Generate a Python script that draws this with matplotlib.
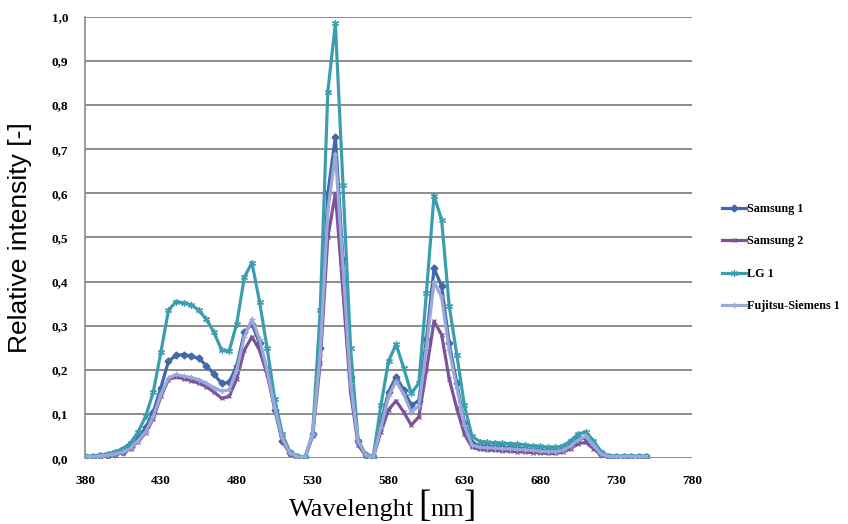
import numpy as np
import matplotlib.pyplot as plt

# wavelength grid (nm), one reading every 5 nm
wavelength = list(range(380, 755, 5))

samsung1 = [0.004, 0.004, 0.005, 0.007, 0.010, 0.015, 0.025, 0.045, 0.070, 0.105,
            0.160, 0.220, 0.233, 0.235, 0.232, 0.226, 0.210, 0.190, 0.170, 0.172,
            0.210, 0.285, 0.305, 0.260, 0.200, 0.110, 0.040, 0.012, 0.004, 0.002,
            0.055, 0.250, 0.600, 0.728, 0.450, 0.185, 0.040, 0.008, 0.002, 0.080,
            0.150, 0.185, 0.155, 0.120, 0.130, 0.270, 0.430, 0.390, 0.260, 0.170,
            0.080, 0.035, 0.028, 0.027, 0.026, 0.025, 0.024, 0.023, 0.021, 0.020,
            0.018, 0.017, 0.017, 0.020, 0.030, 0.043, 0.047, 0.030, 0.010, 0.004,
            0.004, 0.004, 0.004, 0.004, 0.004]

samsung2 = [0.003, 0.003, 0.004, 0.006, 0.009, 0.013, 0.022, 0.038, 0.058, 0.090,
            0.140, 0.178, 0.185, 0.180, 0.176, 0.170, 0.162, 0.150, 0.136, 0.140,
            0.180, 0.245, 0.275, 0.245, 0.190, 0.115, 0.040, 0.010, 0.003, 0.002,
            0.050, 0.215, 0.500, 0.600, 0.378, 0.150, 0.030, 0.006, 0.002, 0.060,
            0.110, 0.130, 0.105, 0.075, 0.094, 0.200, 0.310, 0.280, 0.180, 0.113,
            0.055, 0.025, 0.020, 0.019, 0.018, 0.017, 0.016, 0.015, 0.014, 0.013,
            0.012, 0.011, 0.011, 0.014, 0.022, 0.033, 0.036, 0.022, 0.008, 0.003,
            0.003, 0.003, 0.003, 0.003, 0.003]

lg1 = [0.005, 0.005, 0.007, 0.010, 0.015, 0.022, 0.035, 0.060, 0.095, 0.150,
       0.240, 0.335, 0.355, 0.352, 0.348, 0.335, 0.315, 0.285, 0.245, 0.243,
       0.305, 0.410, 0.443, 0.355, 0.250, 0.135, 0.055, 0.015, 0.005, 0.002,
       0.055, 0.335, 0.830, 0.985, 0.620, 0.250, 0.040, 0.008, 0.005, 0.120,
       0.220, 0.258, 0.205, 0.147, 0.170, 0.375, 0.595, 0.540, 0.345, 0.235,
       0.120, 0.050, 0.038, 0.036, 0.035, 0.034, 0.033, 0.032, 0.030, 0.028,
       0.027, 0.025, 0.025, 0.028, 0.040, 0.055, 0.060, 0.040, 0.015, 0.006,
       0.005, 0.005, 0.005, 0.005, 0.005]

fujitsu1 = [0.004, 0.004, 0.005, 0.007, 0.010, 0.014, 0.023, 0.040, 0.060, 0.095,
            0.145, 0.182, 0.190, 0.186, 0.183, 0.178, 0.170, 0.160, 0.152, 0.155,
            0.200, 0.275, 0.315, 0.270, 0.200, 0.115, 0.045, 0.012, 0.004, 0.002,
            0.055, 0.235, 0.560, 0.690, 0.434, 0.170, 0.038, 0.008, 0.002, 0.070,
            0.140, 0.175, 0.145, 0.105, 0.118, 0.250, 0.400, 0.365, 0.245, 0.160,
            0.075, 0.030, 0.025, 0.024, 0.023, 0.022, 0.021, 0.020, 0.019, 0.018,
            0.016, 0.015, 0.015, 0.018, 0.028, 0.042, 0.050, 0.030, 0.010, 0.004,
            0.004, 0.004, 0.004, 0.004, 0.004]

series_names = ['Samsung 1', 'Samsung 2', 'LG 1', 'Fujitsu-Siemens 1']
xticks = list(range(380, 781, 50))
yticks = [i / 10 for i in range(11)]
ytick_labels = ['%.1f' % v for v in yticks]
ytick_labels = [s.replace('.', ',') for s in ytick_labels]

fig = plt.figure(figsize=(8.48, 5.24), dpi=100)
ax = fig.add_axes([85 / 848, 1 - 458.3 / 524, 607 / 848, 441.6 / 524])

grid_col = '#8c8c8c'
for v in yticks:
    ax.axhline(v, color=grid_col, lw=1.4, zorder=0)

styles = [
    dict(color='#4169a8', marker='D', ms=3.5, mew=1),
    dict(color='#7a5399', marker='x', ms=3.5, mew=0.9),
    dict(color='#3a9db0', marker=(6, 2, 0), ms=5, mew=0.9),
    dict(color='#9aa9da', marker='+', ms=4.5, mew=0.9),
]
for ys, name, st in zip([samsung1, samsung2, lg1, fujitsu1], series_names, styles):
    ax.plot(wavelength, ys, lw=2.3, label=name, **st)

ax.set_xlim(380, 780)
ax.set_ylim(0, 1.0)
ax.set_xticks(xticks)
ax.set_xticklabels([str(t) for t in xticks])
ax.set_yticks(yticks)
ax.set_yticklabels(ytick_labels)

for sp in ['top', 'right', 'bottom']:
    ax.spines[sp].set_visible(False)
ax.spines['left'].set_color(grid_col)
ax.spines['left'].set_linewidth(1.2)
ax.tick_params(axis='y', length=0, pad=12)
ax.tick_params(axis='x', length=0, pad=12)
for lab in ax.get_xticklabels() + ax.get_yticklabels():
    lab.set_family('Liberation Serif')
    lab.set_fontweight('bold')
    lab.set_fontsize(9.5)

ax.set_ylabel('Relative intensity [-]', family='Liberation Sans', fontsize=19, labelpad=14)

# x label with tall brackets round the unit
base = 1 - 516 / 524
fig.text(414 / 848, base, 'Wavelenght', family='Liberation Serif',
         fontsize=19, ha='right', va='baseline')
fig.text(418 / 848, base, '[', family='Liberation Serif',
         fontsize=27, ha='left', va='baseline')
fig.text(430 / 848, base, 'nm', family='Liberation Serif',
         fontsize=19, ha='left', va='baseline')
fig.text(464 / 848, base, ']', family='Liberation Serif',
         fontsize=27, ha='left', va='baseline')

leg = fig.legend(loc='upper left', bbox_to_anchor=(711 / 848, 1 - 192 / 524),
                 frameon=False, handlelength=2.0, handletextpad=0.05,
                 labelspacing=1.7, prop={'family': 'Liberation Serif',
                                         'weight': 'bold', 'size': 8.7})

fig.savefig('out.png', dpi=100)
